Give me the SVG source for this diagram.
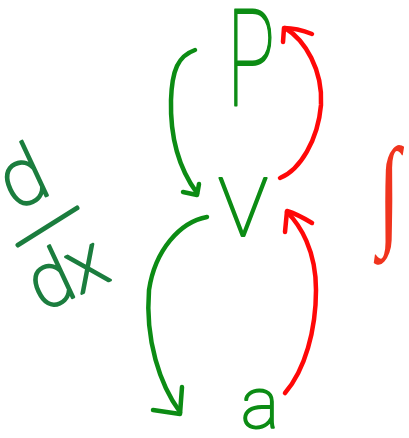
<svg xmlns="http://www.w3.org/2000/svg" width="409" height="438" viewBox="0 0 409 438">
<style>
.g{fill:none;stroke:#0c8c14;stroke-width:4.5;stroke-linecap:round;stroke-linejoin:round}
.r{fill:none;stroke:#ff0808;stroke-width:4.5;stroke-linecap:round;stroke-linejoin:round}
.lt{font-family:Roboto,Lato,Inter,"DejaVu Sans",sans-serif;font-weight:100;fill:#0c8c14;stroke:#0c8c14;stroke-width:2;stroke-linejoin:round;stroke-linecap:round}
.dd{font-family:Roboto,Lato,Inter,"DejaVu Sans",sans-serif;font-weight:100;fill:#1b7d3e;stroke:#1b7d3e;stroke-width:2.5;stroke-linejoin:round;stroke-linecap:round}
</style>
<rect width="409" height="438" fill="#fff"/>
<g id="connectors">
<path class="g" d="M195,50 C178,56 172,70 171,100 C170,140 180,170 197,193"/>
<path class="g" d="M183,192 L197,195 L199,184"/>
<path class="g" d="M207,217 C180,222 155,250 149,290 C145,340 160,385 180,412"/>
<path class="g" d="M153,410 L180,414 L182,387"/>
<path class="r" d="M280,178 C300,170 318,140 321,105 C323,70 305,40 285,28"/>
<path class="r" d="M312,34 C302,30 292,28 284,28 L283,42"/>
<path class="r" d="M285,393 C305,370 316,330 316,290 C316,250 300,225 287,212"/>
<path class="r" d="M312,223 C302,217 294,213 287,211 L285,232"/>
</g>
<g id="P"><text class="lt" x="227" y="106" font-size="136" textLength="48" lengthAdjust="spacingAndGlyphs">P</text></g>
<g id="V"><text class="lt" x="218" y="236" font-size="82" textLength="50" lengthAdjust="spacingAndGlyphs">V</text></g>
<g id="a"><text class="lt" x="241" y="428" font-size="72">a</text></g>
<g id="ddx">
<text class="dd" transform="translate(14,211) rotate(-25)" font-size="80">d</text>
<path d="M18,245 L77,208" fill="none" stroke="#1b7d3e" stroke-width="5" stroke-linecap="round"/>
<text class="dd" transform="translate(42,312) rotate(-25)" font-size="76">dx</text>
</g>
<g id="integral"><text x="378" y="232" font-family="'Liberation Serif',serif" font-size="122" fill="#f0341e" textLength="22" lengthAdjust="spacingAndGlyphs">∫</text></g>
</svg>
